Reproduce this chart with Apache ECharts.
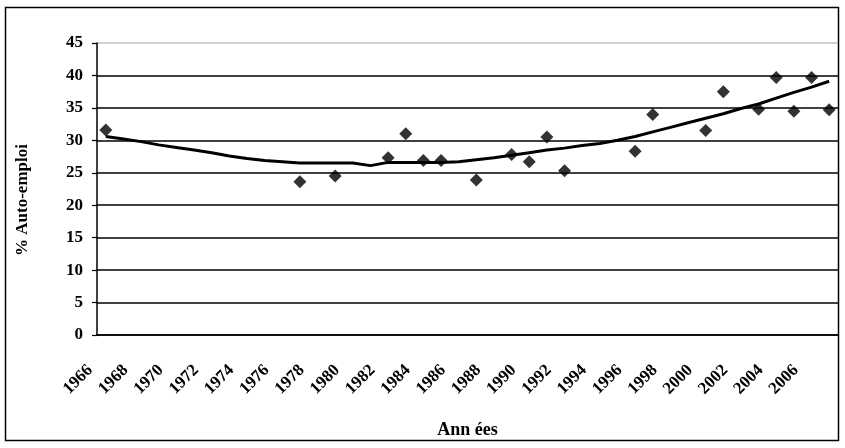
<!DOCTYPE html>
<html>
<head>
<meta charset="utf-8">
<script src="https://cdn.jsdelivr.net/npm/echarts@6/dist/echarts.min.js"></script>
<style>
html,body{margin:0;padding:0;background:#fff;}
#chart{width:845px;height:448px;}
</style>
</head>
<body>
<div id="chart"></div>
<script>
// Categories (years)
const years = [];
for (let y = 1966; y <= 2007; y++) years.push(String(y));

const obsYears = ['1966','1977','1979','1982','1983','1984','1985','1987','1989','1990','1991','1992','1996','1997','2000','2001','2003','2004','2005','2006','2007'];
const obsValues = [31.6,23.6,24.5,27.3,31.0,26.9,26.9,23.9,27.8,26.7,30.5,25.3,28.3,34.0,31.5,37.5,34.8,39.7,34.5,39.7,34.7];

// Trend line values, one per year 1966..2007
const trendValues = [30.6,30.2,29.8,29.3,28.9,28.5,28.1,27.6,27.2,26.9,26.7,26.5,26.5,26.5,26.5,26.1,26.6,26.6,26.6,26.6,26.7,27.0,27.3,27.7,28.1,28.5,28.8,29.2,29.5,30.0,30.6,31.3,32.0,32.7,33.4,34.1,34.9,35.6,36.5,37.4,38.2,39.1];

// Y-axis ticks
const yMin = 0, yMax = 45, yStep = 5;

const FONT = "'Liberation Serif', 'Times New Roman', serif";
const chart = echarts.init(document.getElementById('chart'), null, {renderer: 'canvas'});

const gridColors = [];
for (let v = yMin; v <= yMax; v += yStep) gridColors.push(v === yMax ? '#c0c0c0' : '#000');

chart.setOption({
  animation: false,
  backgroundColor: '#fff',
  grid: {left: 97, right: 7, top: 43, bottom: 113},
  graphic: [{
    type: 'rect',
    shape: {x: 5.5, y: 7.5, width: 833, height: 433},
    style: {fill: 'none', stroke: '#000', lineWidth: 1.5},
    silent: true
  }],
  xAxis: {
    type: 'category',
    data: years,
    boundaryGap: true,
    name: 'Ann ées',
    nameLocation: 'middle',
    nameGap: 86,
    nameTextStyle: {fontFamily: FONT, fontWeight: 'bold', fontSize: 18, color: '#000'},
    axisLine: {lineStyle: {color: '#000', width: 1.5}},
    axisTick: {interval: 0, length: 5, lineStyle: {color: '#000', width: 1.2}},
    axisLabel: {
      interval: 1, rotate: 45, margin: 17, padding: [0, 22, 0, 0],
      fontFamily: FONT, fontWeight: 'bold', fontSize: 17, color: '#000'
    },
    splitLine: {show: false}
  },
  yAxis: {
    type: 'value',
    min: yMin, max: yMax, interval: yStep,
    name: '% Auto-emploi',
    nameLocation: 'middle',
    nameGap: 66,
    nameTextStyle: {fontFamily: FONT, fontWeight: 'bold', fontSize: 17, color: '#000', padding: [0, 22, 0, 0]},
    axisLine: {show: true, lineStyle: {color: '#000', width: 1.5}},
    axisTick: {show: true, length: 5, lineStyle: {color: '#000', width: 1.2}},
    axisLabel: {margin: 14, fontFamily: FONT, fontWeight: 'bold', fontSize: 17, color: '#000'},
    splitLine: {show: true, lineStyle: {color: gridColors, width: 1.6}}
  },
  series: [
    {
      type: 'line',
      data: trendValues,
      symbol: 'none',
      lineStyle: {color: '#000', width: 3},
      z: 3
    },
    {
      type: 'scatter',
      data: obsYears.map((y, i) => [y, obsValues[i]]),
      symbol: 'diamond',
      symbolSize: 13,
      itemStyle: {color: '#000'},
      z: 4
    }
  ]
});
</script>
</body>
</html>
